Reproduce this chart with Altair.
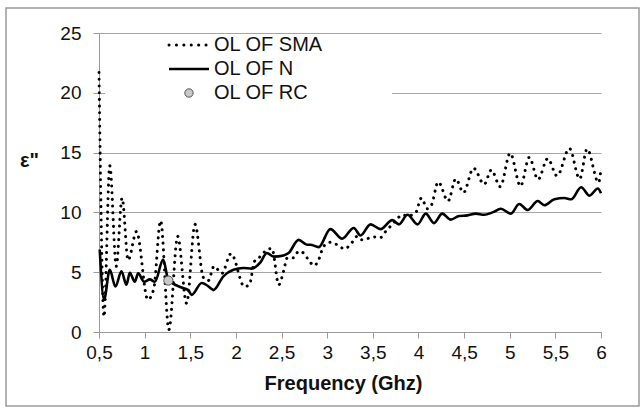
import altair as alt
import pandas as pd

# ---- data ----
sma_f = [0.50, 0.555, 0.618, 0.689, 0.753, 0.819, 0.911, 1.035, 1.10, 1.175, 1.266, 1.362, 1.46, 1.552,
         1.643, 1.698, 1.760, 1.845, 1.947, 2.093, 2.148, 2.203, 2.266, 2.357, 2.395, 2.469, 2.522, 2.563,
         2.632, 2.687, 2.742, 2.793, 2.859, 2.907, 2.962, 3.035, 3.109, 3.189, 3.274, 3.329, 3.384, 3.438,
         3.511, 3.585, 3.640, 3.695, 3.750, 3.823, 3.878, 3.969, 4.032, 4.098, 4.142, 4.217, 4.324, 4.409,
         4.493, 4.603, 4.720, 4.799, 4.896, 5.005, 5.118, 5.214, 5.310, 5.416, 5.519, 5.654, 5.766, 5.848,
         5.973, 6.0]
sma_v = [21.7, 1.3, 13.9, 5.5, 11.2, 6.0, 8.4, 2.7, 3.6, 9.3, 0.2, 8.0, 2.4, 9.0,
         4.56, 4.3, 5.5, 4.9, 6.55, 3.8, 3.95, 5.9, 6.3, 6.95, 6.97, 3.95, 5.07, 6.2,
         6.2, 6.75, 6.6, 6.05, 5.55, 6.05, 7.17, 7.5, 7.3, 6.95, 7.5, 8.0, 7.7, 7.8,
         7.95, 7.9, 8.4, 8.85, 9.3, 9.8, 9.7, 9.97, 11.2, 10.3, 10.6, 12.55, 10.95, 12.8,
         11.65, 13.7, 12.35, 13.55, 12.15, 14.95, 12.2, 14.6, 12.75, 14.5, 13.05, 15.35, 12.8, 15.3,
         12.5, 13.6]

n_f = [0.508, 0.555, 0.618, 0.680, 0.746, 0.801, 0.837, 0.892, 0.929, 0.995, 1.057, 1.112, 1.203, 1.258,
       1.412, 1.478, 1.515, 1.625, 1.735, 1.753, 1.863, 1.973, 2.082, 2.175, 2.266, 2.340, 2.412, 2.522,
       2.577, 2.687, 2.779, 2.815, 2.907, 3.035, 3.164, 3.291, 3.365, 3.475, 3.585, 3.713, 3.786, 3.88,
       3.99, 4.08, 4.17, 4.26, 4.354, 4.445, 4.537, 4.628, 4.720, 4.812, 4.903, 5.013, 5.104, 5.197,
       5.307, 5.379, 5.489, 5.599, 5.673, 5.783, 5.874, 5.966, 6.0]
n_v = [6.9, 2.7, 5.2, 3.8, 5.07, 3.95, 4.95, 4.2, 4.9, 4.2, 4.4, 4.2, 6.05, 4.4,
       3.7, 3.5, 3.1, 4.1, 3.6, 3.5, 4.65, 5.2, 5.35, 5.3, 5.8, 6.6, 6.3, 6.4,
       6.6, 7.7, 7.3, 7.3, 7.1, 8.6, 7.8, 8.7, 8.07, 9.0, 8.6, 9.35, 9.0, 9.8,
       9.0, 9.9, 9.1, 9.9, 9.4, 9.7, 9.75, 9.9, 9.8, 10.0, 10.3, 9.9, 10.7, 10.2,
       10.95, 10.6, 11.1, 11.2, 11.1, 12.1, 11.4, 12.0, 11.6]

rc_f = [1.26]
rc_v = [4.3]

x_ticks = [0.5, 1, 1.5, 2, 2.5, 3, 3.5, 4, 4.5, 5, 5.5, 6]
y_ticks = [0, 5, 10, 15, 20, 25]
legend_labels = ["OL OF SMA", "OL OF N", "OL OF RC"]

FONT = "Liberation Sans"
W, H = 502, 299

sma = pd.DataFrame({"f": sma_f, "v": sma_v})
nn = pd.DataFrame({"f": n_f, "v": n_v})
rc = pd.DataFrame({"f": rc_f, "v": rc_v})
one = pd.DataFrame({"a": [0]})

xscale = alt.Scale(domain=[0.5, 6], nice=False, zero=False)
yscale = alt.Scale(domain=[0, 25], nice=False)

xaxis = alt.Axis(values=x_ticks, labelExpr="replace(toString(datum.value), '.', ',')",
                 grid=False, tickSize=6, tickColor="#999999", domainColor="#999999",
                 labelFlush=False, labelOverlap=False,
                 labelFont=FONT, labelFontSize=19, labelColor="#111111", labelPadding=5,
                 title="Frequency (Ghz)", titleFont=FONT, titleFontSize=20, titleFontWeight="bold",
                 titleColor="#111111", titleX=244, titleY=51, titleBaseline="middle")
yaxis = alt.Axis(values=y_ticks, grid=True, gridColor="#a6a6a6", tickSize=6, tickColor="#999999",
                 labelFlush=False, labelOverlap=False,
                 domainColor="#999999", labelFont=FONT, labelFontSize=19, labelColor="#111111",
                 labelPadding=12, title='ε"', titleAngle=0, titleFont=FONT, titleFontSize=20,
                 titleFontWeight="bold", titleColor="#111111", titleX=-70, titleY=127,
                 titleAlign="center", titleBaseline="middle")

frame = alt.Chart(one).mark_rect(filled=False, stroke="#9a9a9a", strokeWidth=1.5, clip=False).encode(
    x=alt.value(-93), x2=alt.value(540), y=alt.value(-25), y2=alt.value(373))

base_axes = alt.Chart(nn).mark_line(opacity=0).encode(
    x=alt.X("f:Q", scale=xscale, axis=xaxis),
    y=alt.Y("v:Q", scale=yscale, axis=yaxis))

legend_box = alt.Chart(one).mark_rect(fill="white").encode(
    x=alt.value(6), x2=alt.value(293), y=alt.value(3), y2=alt.value(71))

sma_line = alt.Chart(sma).mark_line(color="black", strokeWidth=3, strokeDash=[0.1, 6.6],
                                    strokeCap="round", interpolate="monotone").encode(
    x=alt.X("f:Q", scale=xscale), y=alt.Y("v:Q", scale=yscale))

n_line = alt.Chart(nn).mark_line(color="black", strokeWidth=2.6, interpolate="monotone").encode(
    x=alt.X("f:Q", scale=xscale), y=alt.Y("v:Q", scale=yscale))

rc_pt = alt.Chart(rc).mark_point(shape="circle", filled=True, fill="#c8c8c8", stroke="#555555",
                                 strokeWidth=1, size=85, opacity=1).encode(
    x=alt.X("f:Q", scale=xscale), y=alt.Y("v:Q", scale=yscale))

leg_sma = alt.Chart(one).mark_rule(color="black", strokeWidth=3, strokeDash=[0.1, 7.3],
                                   strokeCap="round").encode(
    x=alt.value(70), x2=alt.value(109), y=alt.value(12))
leg_n = alt.Chart(one).mark_rule(color="black", strokeWidth=2.6).encode(
    x=alt.value(70), x2=alt.value(110), y=alt.value(36))
leg_rc = alt.Chart(one).mark_point(shape="circle", filled=True, fill="#c8c8c8", stroke="#555555",
                                   strokeWidth=1, size=70, opacity=1).encode(
    x=alt.value(90), y=alt.value(60))

leg_texts = []
for i, lab in enumerate(legend_labels):
    leg_texts.append(alt.Chart(one).mark_text(text=lab, font=FONT, fontSize=20, color="#111111",
                                              align="left", baseline="middle").encode(
        x=alt.value(115), y=alt.value(12 + 24 * i)))

chart = alt.layer(frame, base_axes, legend_box, sma_line, n_line, rc_pt, leg_sma, leg_n, leg_rc,
                  *leg_texts).properties(
    width=W, height=H,
    autosize=alt.AutoSizeParams(type="none"),
    padding={"left": 99, "top": 33, "right": 40, "bottom": 76},
    background="white",
).configure_view(stroke=None)

chart.save("out.html", embed_options={"renderer": "svg", "actions": False})
